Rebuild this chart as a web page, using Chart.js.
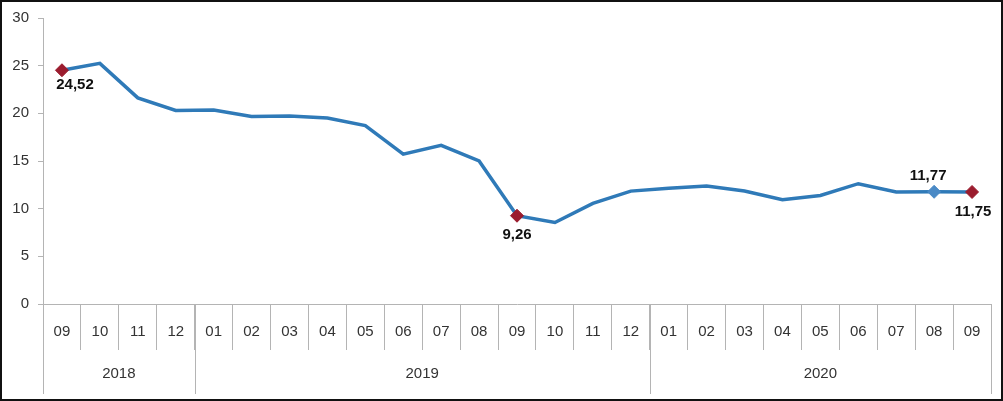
<!DOCTYPE html>
<html><head><meta charset="utf-8">
<script src="https://cdn.jsdelivr.net/npm/chart.js@4.4.1/dist/chart.umd.min.js"></script>
<style>
html,body{margin:0;padding:0;background:#fff;}
#wrap{position:relative;width:1003px;height:401px;}
#frame{position:absolute;left:0;top:0;width:1003px;height:401px;box-sizing:border-box;border:2px solid #111;pointer-events:none;}
canvas{position:absolute;left:0;top:0;}
</style></head>
<body>
<div id="wrap"><canvas id="c" width="1003" height="401"></canvas><div id="frame"></div></div>
<script>
const months = ['09','10','11','12','01','02','03','04','05','06','07','08','09','10','11','12','01','02','03','04','05','06','07','08','09'];
const values = [24.52,25.24,21.62,20.30,20.35,19.67,19.71,19.50,18.71,15.72,16.65,15.01,9.26,8.55,10.56,11.84,12.15,12.37,11.86,10.94,11.39,12.62,11.76,11.77,11.75];
const years = ['2018','2019','2020'];
const yearSpans = [4,12,9];
const yTicks = [0,5,10,15,20,25,30];
const markedIdx = [0,12,23,24];
const markedText = ['24,52','9,26','11,77','11,75'];
const markedColor = ['#9b1c2e','#9b1c2e','#4a8ac6','#9b1c2e'];
const labelOffsets = [[13,15],[0,19],[-6,-16],[1,20]];

Chart.defaults.font.family = '"Liberation Sans", Arial, sans-serif';

const radius = values.map((v,i)=> markedIdx.includes(i) ? 6.5 : 0);
const pColors = values.map((v,i)=> { const k = markedIdx.indexOf(i); return k>=0 ? markedColor[k] : '#2f7ab8'; });

const gridGray = '#b4b4b4';

const tablePlugin = {
  id:'tablePlugin',
  afterDraw(chart){
    const ctx = chart.ctx, x = chart.scales.x, area = chart.chartArea;
    const w = (x.getPixelForValue(1) - x.getPixelForValue(0));
    ctx.save();
    ctx.strokeStyle = gridGray; ctx.lineWidth = 1;
    let start = 0;
    const bottom = 394;
    const bounds = [0];
    yearSpans.forEach(s=>{ start += s; bounds.push(start); });
    bounds.forEach(b=>{
      const px = Math.round(x.getPixelForValue(b) - w/2) + 0.5;
      ctx.beginPath(); ctx.moveTo(px, area.bottom); ctx.lineTo(px, bottom); ctx.stroke();
    });
    ctx.fillStyle = '#333'; ctx.font = '15px "Liberation Sans", Arial, sans-serif';
    ctx.textAlign = 'center'; ctx.textBaseline = 'middle';
    start = 0;
    yearSpans.forEach((s,k)=>{
      const cx = (x.getPixelForValue(start) + x.getPixelForValue(start+s-1))/2;
      ctx.fillText(years[k], cx, 374);
      start += s;
    });
    const meta = chart.getDatasetMeta(0);
    ctx.fillStyle = '#111'; ctx.font = 'bold 15px "Liberation Sans", Arial, sans-serif';
    markedIdx.forEach((idx,k)=>{
      const pt = meta.data[idx];
      ctx.fillText(markedText[k], pt.x + labelOffsets[k][0], pt.y + labelOffsets[k][1]);
    });
    ctx.restore();
  }
};

new Chart(document.getElementById('c'), {
  type:'line',
  data:{ labels: months, datasets:[{
    data: values, borderColor:'#2f7ab8', borderWidth:3.5, tension:0,
    pointStyle:'rectRot', pointRadius: radius, pointHoverRadius: radius,
    pointBackgroundColor: pColors, pointBorderColor: pColors, pointBorderWidth:1
  }]},
  options:{
    responsive:false, devicePixelRatio:1, animation:false,
    layout:{ padding:{ top:12, right:12, left:0, bottom:0 } },
    plugins:{ legend:{display:false}, tooltip:{enabled:false} },
    scales:{
      x:{
        offset:true,
        grid:{ offset:true, drawOnChartArea:false, tickLength:46, color:gridGray },
        border:{ color:gridGray },
        ticks:{ padding:-27, color:'#333', font:{size:15}, maxRotation:0, autoSkip:false },
        afterFit(s){ s.height = 97; }
      },
      y:{
        min:0, max:30,
        afterBuildTicks(s){ s.ticks = yTicks.map(v=>({value:v})); },
        grid:{ drawOnChartArea:false, tickLength:5, color:gridGray },
        border:{ color:gridGray },
        ticks:{ padding:9, color:'#333', font:{size:15} },
        afterFit(s){ s.width = 43; }
      }
    }
  },
  plugins:[tablePlugin]
});
</script>
</body></html>
